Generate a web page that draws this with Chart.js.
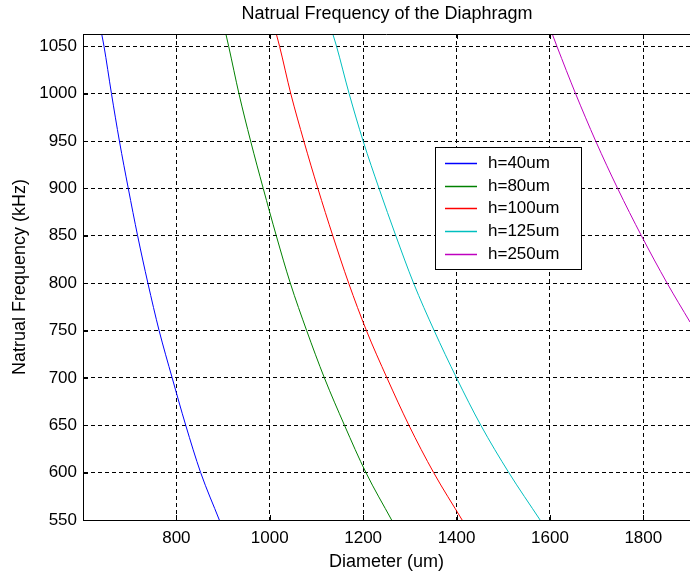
<!DOCTYPE html>
<html>
<head>
<meta charset="utf-8">
<script src="https://cdn.jsdelivr.net/npm/chart.js@4.4.1/dist/chart.umd.min.js"></script>
<style>
  html, body { margin: 0; padding: 0; background: #fff; }
  canvas { display: block; }
</style>
</head>
<body>
<canvas id="chart" width="690" height="577"></canvas>
<script>
const freqLevels = [1063, 1050, 1000, 950, 900, 850, 800, 750, 700, 650, 600, 550];

// diameters (um) for each thickness at those frequency levels
const h40D = [640, 645, 661, 678, 697, 717, 739, 763, 791, 820, 852, 892];
const h80D = [906, 912, 934, 959, 986, 1014, 1044, 1079, 1117, 1160, 1206, 1261];
const h100D = [1014, 1021, 1045, 1073, 1103, 1135, 1169, 1207, 1251, 1298, 1351, 1412];
const h125D = [1135, 1143, 1170, 1200, 1234, 1270, 1308, 1352, 1400, 1452, 1512, 1579];

// the 250um curve leaves the plot on the right side
const h250D = [1605, 1615, 1655, 1698, 1745, 1796, 1851, 1900];
const h250F = [1063, 1050, 1000, 950, 900, 850, 800, 759];

const seriesLabels = ["h=40um", "h=80um", "h=100um", "h=125um", "h=250um"];
const seriesColors = ["#0000ff", "#008000", "#ff0000", "#00bfbf", "#bf00bf"];

const xTickValues = [800, 1000, 1200, 1400, 1600, 1800];
const yTickValues = [550, 600, 650, 700, 750, 800, 850, 900, 950, 1000, 1050];

const TITLE = "Natrual Frequency of the Diaphragm";
const FONT = "'Liberation Sans', Arial, sans-serif";

function toPoints(xs, ys) {
  return xs.map((x, i) => ({ x: x, y: ys[i] }));
}

const seriesData = [
  toPoints(h40D, freqLevels),
  toPoints(h80D, freqLevels),
  toPoints(h100D, freqLevels),
  toPoints(h125D, freqLevels),
  toPoints(h250D, h250F)
];

// MATLAB style: title over the axes, ticks pointing inward, box on top,
// legend inside the axes
const matlabFrame = {
  id: "matlabFrame",
  afterDraw(chart) {
    const ctx = chart.ctx;
    const area = chart.chartArea;
    const xs = chart.scales.x;
    const ys = chart.scales.y;
    const len = 5;

    ctx.save();
    ctx.fillStyle = "#000";
    ctx.font = "18px " + FONT;
    ctx.textAlign = "center";
    ctx.textBaseline = "middle";
    ctx.fillText(TITLE, (area.left + area.right + 1) / 2, 14);

    ctx.strokeStyle = "#000";
    ctx.lineWidth = 1;
    ctx.beginPath();
    ctx.moveTo(area.left, Math.round(area.top) + 0.5);
    ctx.lineTo(area.right, Math.round(area.top) + 0.5);
    xTickValues.forEach(v => {
      const px = Math.round(xs.getPixelForValue(v)) + 0.5;
      ctx.moveTo(px, area.bottom);
      ctx.lineTo(px, area.bottom - len);
      ctx.moveTo(px, area.top);
      ctx.lineTo(px, area.top + len);
    });
    yTickValues.forEach(v => {
      const py = Math.round(ys.getPixelForValue(v)) + 0.5;
      ctx.moveTo(area.left, py);
      ctx.lineTo(area.left + len, py);
    });
    ctx.stroke();

    // legend box
    const bx = 435, by = 147, bw = 146, bh = 122;
    ctx.fillStyle = "#fff";
    ctx.fillRect(bx, by, bw, bh);
    ctx.strokeRect(bx + 0.5, by + 0.5, bw, bh);

    ctx.font = "17px " + FONT;
    ctx.textBaseline = "middle";
    ctx.textAlign = "left";
    chart.data.datasets.forEach((ds, i) => {
      const cy = Math.round(by + 16 + i * 22.7) + 0.5;
      ctx.strokeStyle = ds.borderColor;
      ctx.lineWidth = 1.5;
      ctx.beginPath();
      ctx.moveTo(bx + 10, cy);
      ctx.lineTo(bx + 42, cy);
      ctx.stroke();
      ctx.fillStyle = "#000";
      ctx.fillText(ds.label, bx + 53, cy);
    });
    ctx.restore();
  }
};

const ctx = document.getElementById("chart").getContext("2d");

new Chart(ctx, {
  type: "line",
  data: {
    datasets: seriesData.map((pts, i) => ({
      label: seriesLabels[i],
      data: pts,
      borderColor: seriesColors[i],
      backgroundColor: seriesColors[i],
      borderWidth: 1,
      pointRadius: 0,
      fill: false,
      cubicInterpolationMode: "monotone"
    }))
  },
  options: {
    responsive: false,
    devicePixelRatio: 1,
    animation: false,
    layout: { padding: { left: 0, right: 0, top: 34, bottom: 0 } },
    plugins: {
      legend: { display: false },
      tooltip: { enabled: false },
      title: { display: false }
    },
    scales: {
      x: {
        type: "linear",
        min: 600,
        max: 1900,
        afterBuildTicks: s => { s.ticks = xTickValues.map(v => ({ value: v })); },
        afterFit: s => { s.height = 57; },
        border: { display: true, color: "#000", width: 1, dash: [4, 3] },
        grid: { color: "#000", lineWidth: 1, drawTicks: false },
        ticks: {
          color: "#000",
          padding: 8,
          maxRotation: 0,
          font: { family: FONT, size: 17 },
          callback: v => String(v)
        },
        title: {
          display: true,
          text: "Diameter (um)",
          color: "#000",
          font: { family: FONT, size: 18 },
          padding: { top: 0, bottom: 4 }
        }
      },
      y: {
        type: "linear",
        min: 550,
        max: 1063,
        afterBuildTicks: s => { s.ticks = yTickValues.map(v => ({ value: v })); },
        afterFit: s => { s.width = 83; },
        border: { display: true, color: "#000", width: 1, dash: [4, 3] },
        grid: { color: "#000", lineWidth: 1, drawTicks: false },
        ticks: {
          color: "#000",
          padding: 6,
          font: { family: FONT, size: 17 },
          callback: v => String(v)
        },
        title: {
          display: true,
          text: "Natrual Frequency (kHz)",
          color: "#000",
          font: { family: FONT, size: 18 },
          padding: { top: 9, bottom: 0 }
        }
      }
    }
  },
  plugins: [matlabFrame]
});
</script>
</body>
</html>
